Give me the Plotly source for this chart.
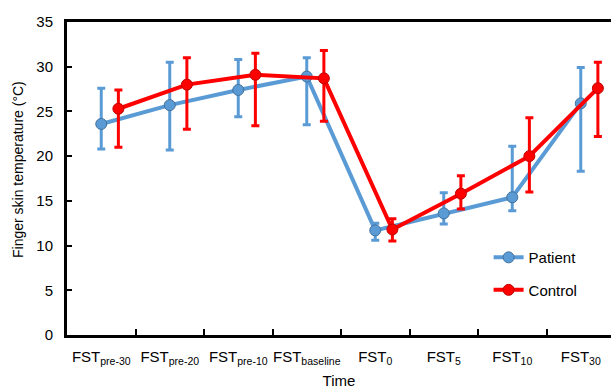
import plotly.graph_objects as go

categories = ["FST<sub>pre-30</sub>", "FST<sub>pre-20</sub>", "FST<sub>pre-10</sub>", "FST<sub>baseline</sub>",
              "FST<sub>0</sub>", "FST<sub>5</sub>", "FST<sub>10</sub>", "FST<sub>30</sub>"]

patient_mean = [23.6, 25.7, 27.4, 28.9, 11.7, 13.6, 15.4, 25.9]
patient_err_plus = [4.0, 4.8, 3.4, 2.1, 0.8, 2.3, 5.7, 4.0]
patient_err_minus = [2.8, 5.0, 3.0, 5.4, 1.1, 1.2, 1.5, 7.6]

control_mean = [25.3, 28.0, 29.1, 28.7, 11.8, 15.8, 20.0, 27.6]
control_err_plus = [2.1, 3.0, 2.4, 3.1, 1.2, 2.0, 4.3, 2.9]
control_err_minus = [4.3, 5.0, 5.7, 4.8, 1.3, 1.7, 4.0, 5.4]

idx = list(range(len(categories)))
offset = 0.25

blue = "#5B9BD5"
blue_dark = "#41719C"
red = "#FF0000"
red_dark = "#C00000"

fig = go.Figure()
fig.add_trace(go.Scatter(
    x=idx, y=patient_mean, name="Patient", mode="lines+markers",
    line=dict(color=blue, width=4),
    marker=dict(size=11, color=blue, line=dict(color=blue_dark, width=1)),
    error_y=dict(type="data", symmetric=False, array=patient_err_plus, arrayminus=patient_err_minus,
                 color=blue, thickness=3, width=4),
    legendgroup="p",
))
fig.add_trace(go.Scatter(
    x=[i + offset for i in idx], y=control_mean, name="Control", mode="lines+markers",
    line=dict(color=red, width=4),
    marker=dict(size=11, color=red, line=dict(color=red_dark, width=1)),
    error_y=dict(type="data", symmetric=False, array=control_err_plus, arrayminus=control_err_minus,
                 color=red, thickness=3, width=4),
    legendgroup="c",
))

font_family = "Liberation Sans, Arial, sans-serif"

fig.update_layout(
    width=611, height=389,
    margin=dict(l=67, r=0, t=22, b=54, autoexpand=False),
    paper_bgcolor="white", plot_bgcolor="white",
    font=dict(family=font_family, size=15, color="black"),
    showlegend=True,
    legend=dict(x=0.775, y=0.3, xanchor="left", yanchor="top", bgcolor="rgba(0,0,0,0)",
                font=dict(size=15), tracegroupgap=10, traceorder="grouped"),
    xaxis=dict(
        range=[-0.5, 7.5 - 4 / 68.5], automargin=False,
        tickmode="array", tickvals=idx, ticktext=categories,
        ticks="", showgrid=False, zeroline=False,
        showline=True, linecolor="black", linewidth=3, mirror=True,
        minor=dict(tickmode="array", tickvals=[i + 0.5 for i in idx[:-1]], ticks="inside",
                   ticklen=6, tickwidth=2, tickcolor="black", showgrid=False),
        ticklabelstandoff=6,
        title=dict(text="Time", font=dict(size=15), standoff=14),
    ),
    yaxis=dict(
        range=[0, 35], tickmode="linear", tick0=0, dtick=5, automargin=False,
        ticks="inside", ticklen=5, tickwidth=2, tickcolor="black",
        showgrid=False, zeroline=False,
        showline=True, linecolor="black", linewidth=3,
        ticklabelstandoff=8,
    ),
    annotations=[dict(
        text="Finger skin temperature (°C)", textangle=-90,
        xref="paper", yref="paper", x=-67 / 544 + 18 / 544, y=(335 - 170) / 313,
        xanchor="center", yanchor="middle", showarrow=False,
        font=dict(size=14, color="black"),
    )],
)

fig.write_html("out.html", config={"displayModeBar": False},
               post_script="document.body.style.margin='0';")
